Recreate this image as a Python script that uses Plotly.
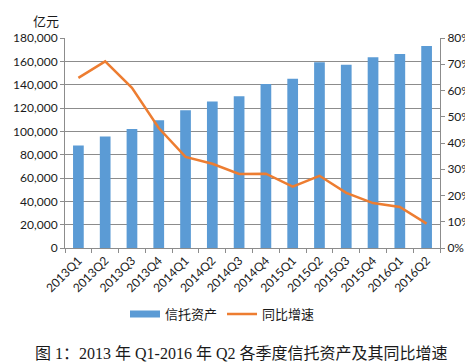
import plotly.graph_objects as go

categories = ["2013Q1", "2013Q2", "2013Q3", "2013Q4", "2014Q1", "2014Q2", "2014Q3",
              "2014Q4", "2015Q1", "2015Q2", "2015Q3", "2015Q4", "2016Q1", "2016Q2"]
trust_assets = [87800, 95500, 101900, 109600, 118000, 125500, 130000,
                140500, 145000, 159300, 157000, 163600, 166300, 173100]
yoy_growth = [0.648, 0.711, 0.610, 0.457, 0.347, 0.321, 0.282,
              0.283, 0.234, 0.275, 0.210, 0.171, 0.156, 0.093]

y_left_ticks = [0, 20000, 40000, 60000, 80000, 100000, 120000, 140000, 160000, 180000]
y_right_ticks = [0, 0.1, 0.2, 0.3, 0.4, 0.5, 0.6, 0.7, 0.8]

BLUE = "#5B9BD5"
ORANGE = "#ED7D31"
GRID = "#8C8C8C"
TXT = "#1a1a1a"
TICKFONT = dict(family="Lato, Liberation Sans, sans-serif", size=12, color=TXT)
CJK = "Noto Sans CJK SC, sans-serif"

fig = go.Figure()
fig.add_trace(go.Bar(x=categories, y=trust_assets, name="信托资产", showlegend=False,
                     legendgroup="a",
                     marker=dict(color=BLUE, line=dict(width=0)), width=0.4))
# legend proxy so the legend key is a wide rectangle like the original
fig.add_trace(go.Scatter(x=[categories[0]], y=[None], name="信托资产", legendgroup="a",
                         mode="lines", line=dict(color=BLUE, width=7)))
fig.add_trace(go.Scatter(x=categories, y=yoy_growth, name="同比增速", yaxis="y2",
                         mode="lines", line=dict(color=ORANGE, width=2.5)))

fig.update_layout(
    width=473, height=364,
    margin=dict(l=57, r=41, t=30, b=124, autoexpand=False),
    paper_bgcolor="white", plot_bgcolor="white",
    showlegend=True,
    legend=dict(orientation="h", x=0.42, xanchor="center", y=-0.315, yanchor="middle",
                font=dict(family=CJK, size=13, color=TXT), itemwidth=30,
                traceorder="normal"),
    xaxis=dict(type="category", tickangle=-45, tickfont=TICKFONT,
               showline=True, linecolor=GRID, linewidth=1,
               ticks="outside", ticklen=4, tickcolor=GRID, tickson="boundaries",
               showgrid=False, automargin=False),
    yaxis=dict(range=[0, 180000], tickvals=y_left_ticks, tickformat=",",
               tickfont=TICKFONT, showline=True, linecolor=GRID, linewidth=1,
               ticks="outside", ticklen=4, tickcolor=GRID,
               showgrid=True, gridcolor=GRID, gridwidth=1, zeroline=False,
               automargin=False),
    yaxis2=dict(range=[0, 0.8], tickvals=y_right_ticks, tickformat=".0%",
                overlaying="y", side="right", tickfont=TICKFONT,
                showline=True, linecolor=GRID, linewidth=1,
                ticks="outside", ticklen=4, tickcolor=GRID,
                showgrid=False, zeroline=False, automargin=False),
    annotations=[
        dict(text="亿元", xref="paper", yref="paper", x=-0.09, y=1.085,
             xanchor="left", yanchor="middle", showarrow=False,
             font=dict(family=CJK, size=13, color=TXT)),
        dict(text="图 1：2013 年 Q1-2016 年 Q2 各季度信托资产及其同比增速",
             xref="paper", yref="paper", x=0.47, y=-0.5,
             xanchor="center", yanchor="middle", showarrow=False,
             font=dict(family="Liberation Serif, Noto Sans CJK SC, serif", size=16, color=TXT)),
    ],
)

fig.write_html("out.html")
